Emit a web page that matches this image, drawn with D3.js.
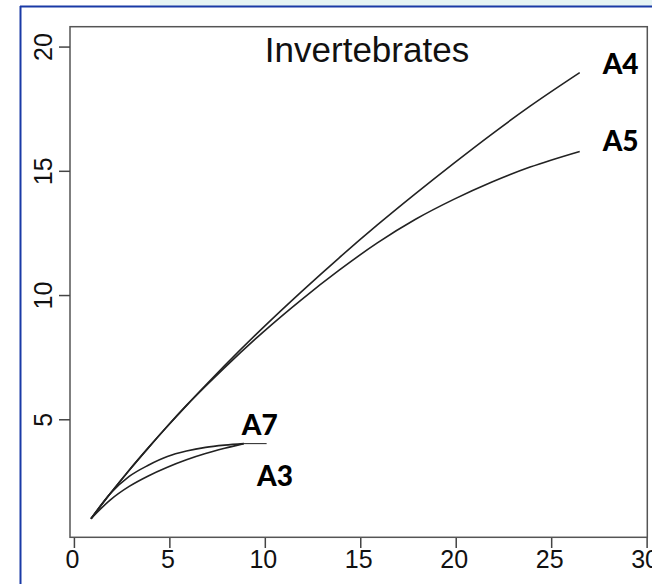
<!DOCTYPE html>
<html><head><meta charset="utf-8">
<script src="https://cdn.jsdelivr.net/npm/d3@7"></script>
<style>body{margin:0;background:#fff}svg{display:block}</style>
</head><body>
<script>
const xTicks=[0,5,10,15,20,25,30];
const yTicks=[5,10,15,20];
const xBig=[1,2,3,4,5,6,7,8,10,12,14,16,18,20,22,24,26.6];
const yA4=[1,2.0,2.95,3.85,4.72,5.56,6.37,7.16,8.68,10.12,11.5,12.82,14.08,15.3,16.48,17.6,18.95];
const yA5=[1,2.0,2.95,3.85,4.72,5.55,6.33,7.08,8.5,9.8,11.0,12.1,13.05,13.85,14.55,15.15,15.78];
const xSmall=[1,2,3,4,5,6,7,8,9];
const yA7=[1,2.0,2.7,3.15,3.5,3.72,3.87,3.96,4.02];
const yA3=[1,1.75,2.3,2.72,3.07,3.37,3.62,3.83,4.02];
const xExt=[9,10.2];
const yExt=[4.02,4.02];
const labels=[{t:"A4",x:27.8,y:19.3},{t:"A5",x:27.8,y:16.2},{t:"A7",x:8.9,y:4.75},{t:"A3",x:9.7,y:2.7}];

const W=652,H=584;
const svg=d3.select("body").append("svg").attr("width",W).attr("height",H);
svg.append("rect").attr("x",150).attr("y",0).attr("width",W-150).attr("height",6).attr("fill","#e6f4f4");
svg.append("line").attr("x1",20).attr("x2",W).attr("y1",6.5).attr("y2",6.5).attr("stroke","#1a3aa6").attr("stroke-width",2);
svg.append("line").attr("x1",20.5).attr("x2",20.5).attr("y1",6).attr("y2",H).attr("stroke","#1a3aa6").attr("stroke-width",2);

const x=d3.scaleLinear().domain([-0.1,30.14]).range([70,647.3]);
const y=d3.scaleLinear().domain([0.25,20.8]).range([537.3,26.7]);

svg.append("rect").attr("x",70).attr("y",26.7).attr("width",577.3).attr("height",510.6)
  .attr("fill","none").attr("stroke","#555").attr("stroke-width",1.5);

const xa=svg.append("g").attr("transform","translate(0,538)")
  .call(d3.axisBottom(x).tickValues(xTicks).tickSize(10).tickPadding(2).tickFormat(d3.format("d")));
xa.select(".domain").remove();
xa.selectAll("line").attr("stroke","#444").attr("stroke-width",1.5).attr("transform","translate(2,0)");
xa.selectAll("text").attr("font-family","Liberation Sans, Arial").attr("font-size",25).attr("fill","#111");

const ya=svg.append("g").attr("transform","translate(70,0)")
  .call(d3.axisLeft(y).tickValues(yTicks).tickSize(11).tickPadding(3).tickFormat(d3.format("d")));
ya.select(".domain").remove();
ya.selectAll("line").attr("stroke","#444").attr("stroke-width",1.5);
ya.selectAll("text").attr("font-family","Liberation Sans, Arial").attr("font-size",25).attr("fill","#111")
  .attr("text-anchor","middle").attr("dy",0).attr("x",0)
  .attr("transform","translate(-27,0) rotate(-90) translate(0,9)");

const line=d3.line().x(d=>x(d[0])).y(d=>y(d[1])).curve(d3.curveMonotoneX);
const series=[[xBig,yA4],[xBig,yA5],[xSmall,yA7],[xSmall,yA3]];
series.forEach(([xs,ys])=>{
  svg.append("path").attr("d",line(xs.map((v,i)=>[v,ys[i]])))
    .attr("fill","none").attr("stroke","#222").attr("stroke-width",1.6);
});
svg.append("path").attr("d",line(xExt.map((v,i)=>[v,yExt[i]]))).attr("fill","none").attr("stroke","#222").attr("stroke-width",1);

svg.append("text").attr("x",367).attr("y",62).attr("text-anchor","middle")
  .attr("font-family","Liberation Sans, Arial").attr("font-size",35).attr("fill","#111").text("Invertebrates");

labels.forEach(l=>{
  svg.append("text").attr("x",x(l.x)).attr("y",y(l.y)).attr("dy","0.35em")
    .attr("font-family","Lato, Open Sans, sans-serif").attr("font-weight","900").attr("font-size",28).attr("fill","#000").text(l.t);
});
</script>
</body></html>
